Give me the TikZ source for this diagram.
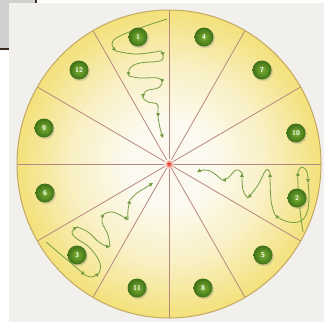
\documentclass[tikz,border=0pt]{standalone}
\usetikzlibrary{arrows.meta, shadows}

\definecolor{pagebg}{RGB}{241,240,236}
\definecolor{boxgray}{RGB}{205,208,204}
\definecolor{boxedge}{RGB}{60,42,34}
\definecolor{diskmid}{RGB}{252,250,240}
\definecolor{diskpale}{RGB}{249,240,196}
\definecolor{diskrim}{RGB}{243,225,122}
\definecolor{rimline}{RGB}{196,168,98}
\definecolor{spokeline}{RGB}{180,136,128}
\definecolor{ballin}{RGB}{124,178,52}
\definecolor{ballout}{RGB}{62,112,22}
\definecolor{flowgreen}{RGB}{116,156,66}
\definecolor{hubred}{RGB}{225,70,50}

\pgfdeclareradialshading{diskshade}{\pgfpointorigin}{color(0bp)=(diskmid); color(7bp)=(diskmid); color(16bp)=(diskpale); color(25bp)=(diskrim); color(50bp)=(diskrim)}

\tikzset{
  % wheel
  spoke/.style    = { draw=spokeline, line width=0.8pt },
  rim/.style      = { draw=rimline, line width=1pt },
  % numbered balls
  numball/.style  = { circle, minimum size=19pt, inner sep=0pt, text=white,
                      font=\sffamily\bfseries\fontsize{7}{8}\selectfont,
                      inner color=ballin, outer color=ballout,
                      circular drop shadow={shadow xshift=0.7pt, shadow yshift=-1pt, opacity=0.3} },
  % wavy routes
  flowline/.style = { draw=flowgreen, line width=0.8pt,
                      -{Triangle[length=3.8pt, width=3.6pt]} },
  flowbend/.style = { smooth, tension=0.7 }
}

\begin{document}
\begin{tikzpicture}[x=1pt, y=-1pt]

  \useasboundingbox (0,0) rectangle (324,322);
  \fill[white] (0,0) rectangle (324,322);
  \fill[boxgray] (0,0) rectangle (36,50);
  \draw[boxedge, line width=1.5pt] (0,49) -- (36,49) -- (36,0);
  \fill[pagebg] (9,3) rectangle (324,322);

  % the wheel
  \coordinate (C) at (169,164);
  \shade[shading=diskshade] (C) ellipse [x radius=152, y radius=154];
  \foreach \a in {0,30,...,330}
    \draw[spoke] (C) -- ++({152*cos(\a)},{154*sin(\a)});
  \draw[rim] (C) ellipse [x radius=152, y radius=154];
  \shade[inner color=hubred, outer color=diskmid] (C) circle [radius=5];
  \fill[hubred] (C) circle [radius=1.8];

  % route in sector 1
  \draw[flowline] plot[flowbend] coordinates {(167,19) (140,28) (118,37) (112,44) (116,51)};
  \draw[flowline] plot[flowbend] coordinates {(116,51) (135,54) (155,52) (161,51) (163,56)};
  \draw[flowline] plot[flowbend] coordinates {(163,56) (160,61) (140,63) (130,68) (129,76)};
  \draw[flowline] plot[flowbend] coordinates {(129,76) (140,78) (158,78) (162,83)};
  \draw[flowline] plot[flowbend] coordinates {(162,83) (158,88) (146,91) (143,98)};
  \draw[flowline] plot[flowbend] coordinates {(143,98) (148,102) (157,104) (158,110) (158,117)};
  \draw[flowline] plot[flowbend] coordinates {(158,117) (160,128) (163,138)};

  % route in sector 2
  \draw[flowline] plot[flowbend] coordinates {(303,232) (300,210) (298,185) (298,172)};
  \draw[flowline] plot[flowbend] coordinates {(298,172) (302,167) (307,172) (308,183)};
  \draw[flowline] plot[flowbend] coordinates {(308,183) (309,200) (306,215) (298,222) (285,221) (275,215)};
  \draw[flowline] plot[flowbend] coordinates {(275,215) (271,200) (270,173)};
  \draw[flowline] plot[flowbend] coordinates {(270,173) (266,170) (258,185) (248,198)};
  \draw[flowline] plot[flowbend] coordinates {(248,198) (243,190) (242,173)};
  \draw[flowline] plot[flowbend] coordinates {(242,173) (236,170) (228,178) (222,180)};
  \draw[flowline] plot[flowbend] coordinates {(222,180) (212,172) (204,170) (197,172)};

  % route in sector 3
  \draw[flowline] plot[flowbend] coordinates {(46,242) (65,258) (85,275)};
  \draw[flowline] plot[flowbend] coordinates {(85,275) (92,277) (99,273)};
  \draw[flowline] plot[flowbend] coordinates {(99,273) (100,263) (90,248) (76,238) (72,232) (77,227)};
  \draw[flowline] plot[flowbend] coordinates {(77,227) (88,232) (100,243) (110,247)};
  \draw[flowline] plot[flowbend] coordinates {(110,247) (108,235) (102,222) (104,214)};
  \draw[flowline] plot[flowbend] coordinates {(104,214) (112,212) (122,216) (128,220)};
  \draw[flowline] plot[flowbend] coordinates {(128,220) (128,210) (130,200)};
  \draw[flowline] plot[flowbend] coordinates {(130,200) (137,193) (145,188) (153,183)};

  % numbered balls, one per sector
  \node[numball] (b1)  at (138,37)  {1};
  \node[numball] (b4)  at (204,37)  {4};
  \node[numball] (b7)  at (262,70)  {7};
  \node[numball] (b10) at (296,133) {10};
  \node[numball] (b2)  at (297,198) {2};
  \node[numball] (b5)  at (263,255) {5};
  \node[numball] (b8)  at (203,288) {8};
  \node[numball] (b11) at (137,288) {11};
  \node[numball] (b3)  at (77,255)  {3};
  \node[numball] (b6)  at (45,193)  {6};
  \node[numball] (b9)  at (44,128)  {9};
  \node[numball] (b12) at (79,70)   {12};

\end{tikzpicture}
\end{document}
